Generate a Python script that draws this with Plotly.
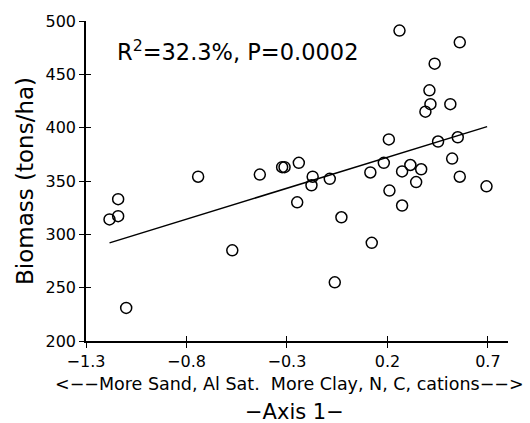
import plotly.graph_objects as go

# Data
axis1 = [-1.183, -1.140, -1.140, -1.100, -0.742, -0.572, -0.435, -0.324, -0.312, -0.241,
         -0.249, -0.172, -0.178, -0.087, -0.062, -0.029, 0.115, 0.122, 0.182, 0.207,
         0.210, 0.260, 0.273, 0.273, 0.314, 0.343, 0.368, 0.389, 0.409, 0.414,
         0.435, 0.452, 0.513, 0.522, 0.550, 0.560, 0.560, 0.693]
biomass = [314, 317, 333, 231, 354, 285, 356, 363, 363, 367,
           330, 354, 346, 352, 255, 316, 358, 292, 367, 389,
           341, 491, 359, 327, 365, 349, 361, 415, 435, 422,
           460, 387, 422, 371, 391, 480, 354, 345]
fit_x = [-1.183, 0.696]
fit_y = [292, 401]
x_ticks = [-1.3, -0.8, -0.3, 0.2, 0.7]
y_ticks = [200, 250, 300, 350, 400, 450, 500]

FONT = "DejaVu Sans"

fig = go.Figure()
fig.add_trace(go.Scatter(x=fit_x, y=fit_y, mode="lines",
                         line=dict(color="black", width=1.5), showlegend=False))
fig.add_trace(go.Scatter(x=axis1, y=biomass, mode="markers",
                         marker=dict(symbol="circle-open", size=11,
                                     line=dict(color="black", width=1.5), color="black"),
                         showlegend=False))
# overlay invisible trace for inside ticks
fig.add_trace(go.Scatter(x=[x_ticks[0]], y=[y_ticks[0]], xaxis="x2", yaxis="y2",
                         mode="markers", marker=dict(opacity=0), showlegend=False,
                         hoverinfo="skip"))

axis_common = dict(showgrid=False, zeroline=False, showline=True, linecolor="black",
                   linewidth=1.5, ticks="outside", ticklen=5, tickwidth=1.2,
                   tickcolor="black", tickfont=dict(family=FONT, size=16, color="black"))

fig.update_layout(
    width=530, height=423,
    margin=dict(l=86, r=22, t=17, b=82),
    paper_bgcolor="white", plot_bgcolor="white",
    xaxis=dict(range=[-1.3, 0.8], tickvals=x_ticks,
               ticktext=[f"{v:.1f}".replace("-", "\u2212") for v in x_ticks], **axis_common),
    yaxis=dict(range=[200, 500], tickvals=y_ticks, **axis_common),
    xaxis2=dict(range=[-1.3, 0.8], overlaying="x", tickvals=x_ticks, showticklabels=False,
                ticks="inside", ticklen=5, tickwidth=1.2, tickcolor="black",
                showgrid=False, zeroline=False, showline=False, anchor="y2"),
    yaxis2=dict(range=[200, 500], overlaying="y", tickvals=y_ticks, showticklabels=False,
                ticks="inside", ticklen=5, tickwidth=1.2, tickcolor="black",
                showgrid=False, zeroline=False, showline=False, anchor="x2"),
    annotations=[
        dict(text="R<sup>2</sup>=32.3%, P=0.0002", xref="paper", yref="paper",
             x=0.0687, y=0.909, xanchor="left", yanchor="middle", showarrow=False,
             font=dict(family=FONT, size=22.5, color="black")),
        dict(text="Biomass (tons/ha)", xref="paper", yref="paper", x=0, y=0.5,
             xshift=-61, xanchor="center", yanchor="middle", textangle=-90,
             showarrow=False, font=dict(family=FONT, size=23, color="black")),
        dict(text="&lt;\u2212\u2212More Sand, Al Sat.\u00a0\u00a0More Clay, N, C, cations\u2212\u2212&gt;",
             xref="paper", yref="paper", x=0.483, y=0, yshift=-43,
             xanchor="center", yanchor="middle", showarrow=False,
             font=dict(family=FONT, size=17.5, color="black")),
        dict(text="\u2212Axis 1\u2212", xref="paper", yref="paper", x=0.495, y=0,
             yshift=-71, xanchor="center", yanchor="middle", showarrow=False,
             font=dict(family=FONT, size=21, color="black")),
    ],
)

fig.write_html("out.html", config={"displayModeBar": False},
               post_script="document.body.style.margin='0';")
